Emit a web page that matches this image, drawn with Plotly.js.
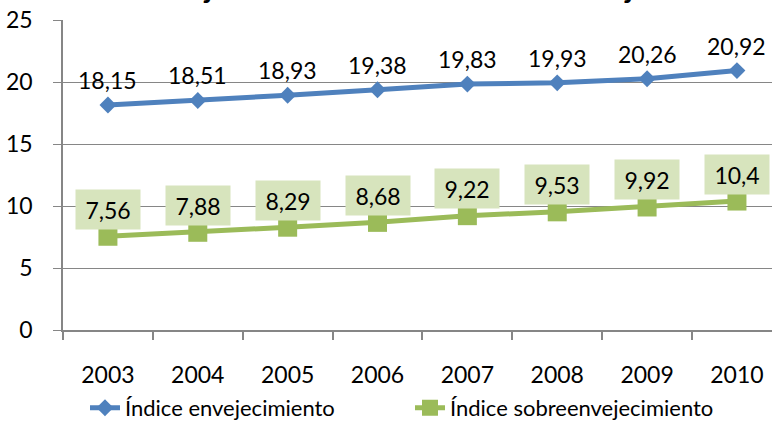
<!DOCTYPE html>
<html>
<head>
<meta charset="utf-8">
<script src="https://cdn.plot.ly/plotly-3.0.1.min.js"></script>
<style>
  html, body { margin: 0; padding: 0; background: #fff; }
  #chart { width: 772px; height: 421px; }
</style>
</head>
<body>
<div id="chart"></div>
<script>
const years = ['2003', '2004', '2005', '2006', '2007', '2008', '2009', '2010'];
const envejecimiento = [18.15, 18.51, 18.93, 19.38, 19.83, 19.93, 20.26, 20.92];
const sobreenvejecimiento = [7.56, 7.88, 8.29, 8.68, 9.22, 9.53, 9.92, 10.4];
const seriesNames = ['Índice envejecimiento', 'Índice sobreenvejecimiento'];
const titleText = 'Índice de envejecimiento e índice de sobreenvejecimiento';

const FONT = 'Lato, "Liberation Sans", sans-serif';
const fmt = v => String(v).replace('.', ',');

const traces = [
    {
        type: 'scatter',
        mode: 'lines+markers',
        name: seriesNames[0],
        x: years,
        y: envejecimiento,
        line: { color: '#4F81BD', width: 5 },
        marker: { symbol: 'diamond', size: 13, color: '#4F81BD' }
    },
    {
        type: 'scatter',
        mode: 'lines+markers',
        name: seriesNames[1],
        x: years,
        y: sobreenvejecimiento,
        line: { color: '#9BBB59', width: 5 },
        marker: { symbol: 'square', size: 19, color: '#9BBB59' }
    }
];

// category index (year strings look numeric to the annotation code)
const blueLabels = years.map((yr, i) => ({
    x: i, y: envejecimiento[i],
    xref: 'x', yref: 'y',
    text: fmt(envejecimiento[i]),
    showarrow: false,
    yanchor: 'middle',
    yshift: 25,
    font: { family: FONT, size: 23, color: '#000' }
}));

const greenLabels = years.map((yr, i) => ({
    x: i, y: sobreenvejecimiento[i],
    xref: 'x', yref: 'y',
    text: fmt(sobreenvejecimiento[i]),
    showarrow: false,
    yanchor: 'middle',
    yshift: 27,
    width: 52, height: 27,
    borderpad: 6,
    bgcolor: '#D7E4BD',
    font: { family: FONT, size: 23, color: '#000' }
}));

// the chart title sits above the crop; only the bottom of its letters shows
const titleNote = {
    xref: 'paper', yref: 'paper',
    x: 0.46, y: 1,
    xanchor: 'center', yanchor: 'bottom',
    yshift: 14,
    showarrow: false,
    text: '<b>' + titleText + '</b>',
    font: { family: FONT, size: 29, color: '#000' }
};

Plotly.newPlot('chart', traces, {
    width: 772,
    height: 421,
    margin: { l: 63, r: 0, t: 20, b: 91 },
    paper_bgcolor: '#fff',
    plot_bgcolor: '#fff',
    font: { family: FONT, size: 22, color: '#000' },
    xaxis: {
        type: 'category',
        range: [-0.5, 7.39],
        tickson: 'boundaries',
        ticks: 'outside',
        ticklen: 8,
        tickwidth: 2,
        tickcolor: '#868686',
        showline: true,
        linecolor: '#868686',
        linewidth: 2,
        showgrid: false,
        ticklabelstandoff: 23,
        tickfont: { family: FONT, size: 23, color: '#000' }
    },
    yaxis: {
        range: [0, 25],
        dtick: 5,
        ticks: 'outside',
        ticklen: 8,
        tickcolor: '#868686',
        showline: true,
        linecolor: '#868686',
        linewidth: 1.5,
        gridcolor: '#868686',
        gridwidth: 1,
        zeroline: false,
        ticklabelstandoff: 16,
        tickfont: { family: FONT, size: 23, color: '#000' }
    },
    legend: {
        orientation: 'h',
        x: 0.031,
        xanchor: 'left',
        yref: 'container',
        y: 0.031,
        yanchor: 'middle',
        entrywidth: 280,
        entrywidthmode: 'pixels',
        font: { family: FONT, size: 22, color: '#000' }
    },
    annotations: [titleNote, ...blueLabels, ...greenLabels],
    showlegend: true
}, { displayModeBar: false });
</script>
</body>
</html>
